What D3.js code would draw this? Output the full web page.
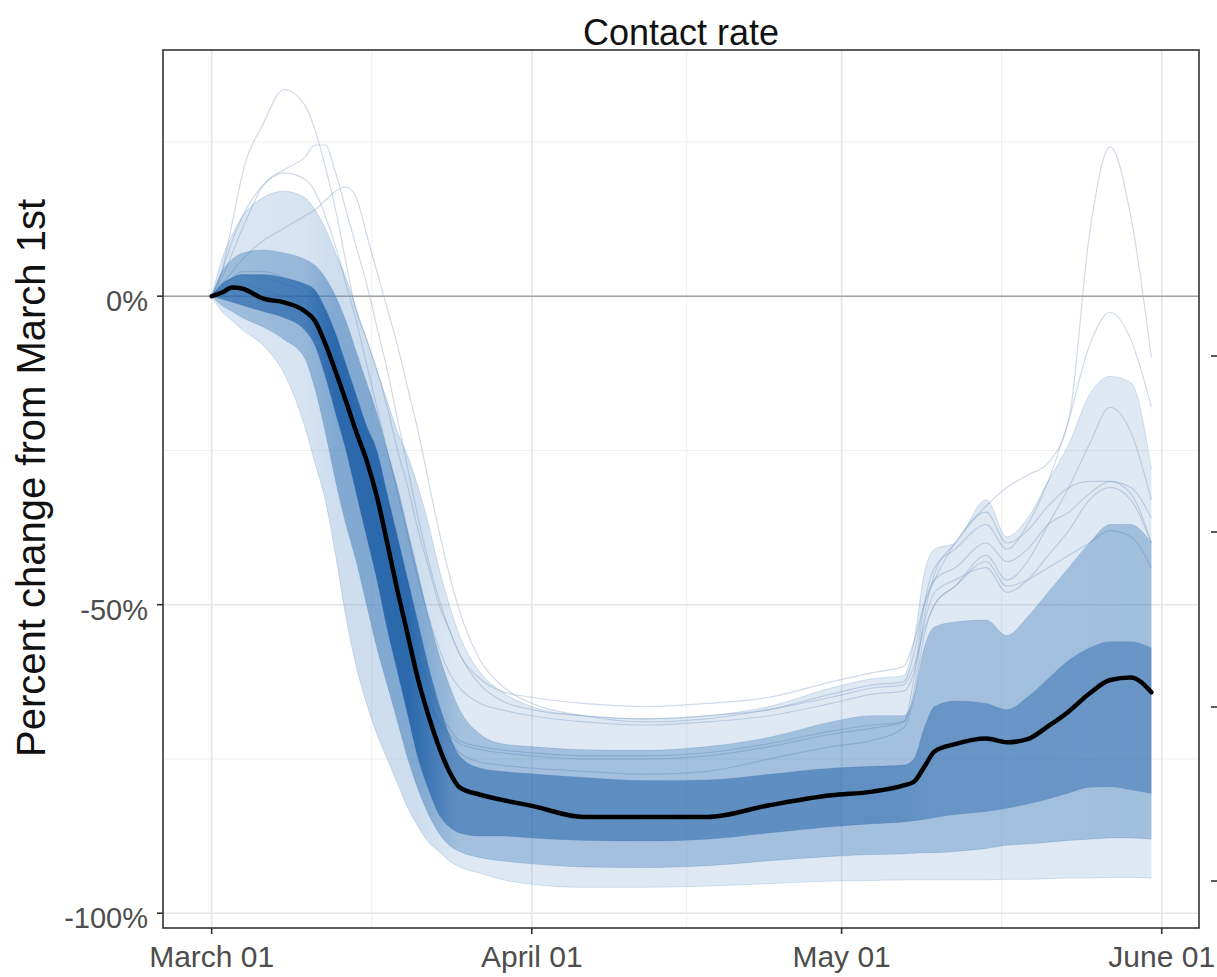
<!DOCTYPE html>
<html>
<head>
<meta charset="utf-8">
<script src="https://cdn.jsdelivr.net/npm/d3@7"></script>
<style>
  html, body { margin: 0; padding: 0; background: #fff; }
  svg { display: block; font-family: "Liberation Sans", Arial, sans-serif; }
</style>
</head>
<body>
<svg id="chart" width="1217" height="977"></svg>
<script>
// Days since March 1st (2020) at which each series is sampled
const bandDays = [0,1,2,3,5,7,9,10,11,12,13,14,15,16,17,18,19,20,21,22,23,24,26,28,31,36,42,48,54,60,64,67,68,69,70,72,75,77,79,81,83,85,87,89,91];

// Median county contact-rate change (%)
const median = [0,0.6,1.4,1.2,-0.4,-1.0,-2.4,-4.0,-7.7,-12.2,-17.0,-22.0,-26.6,-32.5,-40.0,-47.8,-55.0,-62.2,-68.0,-73.0,-77.0,-79.6,-80.8,-81.6,-82.6,-84.4,-84.4,-84.4,-82.5,-80.9,-80.3,-79.3,-78.7,-76.3,-73.8,-72.6,-71.7,-72.3,-71.8,-69.7,-67.3,-64.4,-62.2,-61.8,-64.2];

// Spread of the county curves (%), from the lower to the upper edge
const q02 = [0,-2.5,-4,-5.5,-8,-12.5,-21,-27,-33,-42,-52,-60,-66,-71,-75,-79,-83,-86,-88.5,-90,-91.5,-92.5,-93.5,-94.5,-95.3,-95.8,-95.8,-95.6,-95.2,-94.8,-94.7,-94.6,-94.6,-94.6,-94.6,-94.6,-94.6,-94.5,-94.5,-94.4,-94.3,-94.3,-94.2,-94.2,-94.3];
const q10 = [0,-1.5,-2.5,-3.5,-5,-7,-10,-15,-22,-30,-37,-43,-50,-57,-63,-69,-75,-80,-84,-87,-89,-90,-91,-91.5,-92,-92.5,-92.6,-92.3,-91.5,-90.8,-90.5,-90.4,-90.3,-90.2,-90.2,-90,-89.5,-89,-88.8,-88.5,-88.2,-88,-87.8,-87.8,-88];
const q25 = [0,-0.5,-1,-1.5,-2.5,-3.5,-5.5,-8,-13,-19,-25,-32,-39,-46,-54,-61,-68,-75,-80,-84,-86,-87,-87.5,-87.5,-87.8,-88.2,-88.3,-88,-87,-86,-85.5,-85.2,-85,-84.8,-84.5,-84,-83.5,-83,-82.3,-81.5,-80.5,-79.6,-79.5,-80,-80.6];
const q75 = [0,2,3,3.5,3.5,3,2,1,-2,-6,-11,-16,-21,-25,-32,-39,-46,-53,-60,-66,-71,-74.5,-76.5,-77,-77.4,-78,-78.5,-78.4,-77.5,-76.5,-76.2,-76,-75,-70,-66.5,-65.6,-66,-67,-65,-62,-59,-57,-56,-56,-57];
const q90 = [0,4,6,7,7.5,7,6,5,3,0,-4,-9,-14,-19,-25,-31,-38,-45,-52,-58,-63,-67,-71,-72.5,-73,-73.5,-73.6,-73,-71.5,-69,-68,-68,-65,-57,-53.6,-52.8,-52.5,-55,-52,-48,-44,-40,-37,-37,-40];
const q98 = [0,6,10,13,16,17,16,14,11,7,3,-2,-7,-12,-17,-22,-26,-31,-37,-44,-50,-55,-61,-64,-66.5,-68,-68.5,-68,-66.5,-63.5,-62,-61.5,-56,-45,-41,-40,-33,-39,-36,-30,-24,-16,-13,-14,-28];

// Individual counties that stand apart from the bulk (%)
const earlyPeakA = [0,4,12,20,28,33.5,31,27,21,14,5.5,-2.5,-7,-12,-18,-25,-31,-38,-44,-50,-54,-58,-62,-64,-65,-66,-66.5,-66,-65,-62.5,-61,-60,-56,-50,-46,-40,-35,-40,-38,-34,-31,-30,-30,-32,-40];
const earlyPeakB = [0,3,7,11,18,20.5,22.5,24.5,24.5,20,14,8,2,-5,-12,-20,-28,-36,-43,-49,-54,-58,-63,-65.5,-67,-68,-68.5,-68,-67,-64.5,-63,-62.5,-58,-50,-46,-44,-40,-43,-41,-37,-35,-32,-30,-31,-36];
const earlyPeakC = [0,2,4,6,9,11,13,14,15.5,17,17.7,16,10,4,-2,-8,-15,-22,-30,-38,-45,-51,-59,-63,-66,-68,-69,-68.5,-67,-65,-63.5,-63,-60,-54,-50,-47,-43,-47,-46,-44,-42,-40,-38,-39,-44];
const earlyPeakD = [0,4,9,13,18,20,19,17,13,8,2,-4,-11,-18,-25,-32,-39,-46,-52,-57,-61,-63.5,-66,-67,-68,-69,-69.5,-69,-68,-66,-64.5,-64,-61,-53,-48,-46,-44,-48,-46,-42,-38,-33,-31,-33,-40];
const latePeakA = [0,1,2,2,1,0,-1,-3,-7,-12,-18,-24,-30,-37,-44,-51,-57,-62,-66,-69,-71,-72.5,-73.5,-74,-74.5,-75,-75,-74.5,-73,-71,-70,-69,-64,-52,-45,-40,-34,-31,-29,-27,-20,10,24.2,13,-10];
const latePeakB = [0,1.5,3,4,4,3,1.5,0,-3,-8,-13,-19,-25,-31,-38,-45,-52,-58,-63,-67,-70,-72,-73,-73.5,-74,-74.5,-74.5,-74,-72.5,-70.5,-69.5,-69,-62,-50,-44,-41,-37,-41,-37,-30,-20,-8,-2.6,-7,-18];
const latePeakC = [0,2,3,3.5,3,2,0.5,-1.5,-5,-10,-15,-21,-27,-33,-40,-47,-54,-60,-65,-69,-72,-74,-75.5,-76,-76.5,-77,-77.5,-77,-75,-73,-72,-70,-65,-55,-50,-47,-42,-46,-43,-37,-31,-24,-18,-22,-33];

const outliers = [earlyPeakA, earlyPeakB, earlyPeakC, earlyPeakD, latePeakA, latePeakB, latePeakC];

// Axis breaks and labels
const xTickLabels = ["March 01", "April 01", "May 01", "June 01"];
const xTickDates = ["2020-03-01", "2020-04-01", "2020-05-01", "2020-06-01"];
const xMinorDates = ["2020-03-16T12:00", "2020-04-16T00:00", "2020-05-16T12:00"];
const yTicks = [0, -50, -100];
const yTickLabels = ["0%", "-50%", "-100%"];
const yMinor = [25, -25, -75];

const svg = d3.select("#chart");
const defs = svg.append("defs");
const panel = { left: 163, right: 1199, top: 50, bottom: 928 };

const mar1 = new Date(Date.UTC(2020, 2, 1));
const jun1 = new Date(Date.UTC(2020, 5, 1));
const dayMs = 864e5;
const x = d3.scaleUtc()
  .domain([new Date(mar1.getTime() - 4.714 * dayMs), new Date(jun1.getTime() + 3.61 * dayMs)])
  .range([panel.left, panel.right]);
const y = d3.scaleLinear().domain([-102.4, 39.9]).range([panel.bottom, panel.top]);

const parseDate = s => new Date(s + (s.includes("T") ? "Z" : "T00:00Z"));
const dates = bandDays.map(d => d3.utcDay.offset(mar1, d));

// Grid
const grid = svg.append("g");
grid.selectAll("line.ymin").data(yMinor).join("line")
  .attr("x1", panel.left).attr("x2", panel.right)
  .attr("y1", d => y(d)).attr("y2", d => y(d))
  .attr("stroke", "#efefef").attr("stroke-width", 1);
grid.selectAll("line.xmin").data(xMinorDates.map(parseDate)).join("line")
  .attr("y1", panel.top).attr("y2", panel.bottom)
  .attr("x1", d => x(d)).attr("x2", d => x(d))
  .attr("stroke", "#efefef").attr("stroke-width", 1);
grid.selectAll("line.ymaj").data(yTicks).join("line")
  .attr("x1", panel.left).attr("x2", panel.right)
  .attr("y1", d => y(d)).attr("y2", d => y(d))
  .attr("stroke", "#e6e6e6").attr("stroke-width", 1.6);
grid.selectAll("line.xmaj").data(xTickDates.map(parseDate)).join("line")
  .attr("y1", panel.top).attr("y2", panel.bottom)
  .attr("x1", d => x(d)).attr("x2", d => x(d))
  .attr("stroke", "#e6e6e6").attr("stroke-width", 1.6);

// Reference line at no change
svg.append("line")
  .attr("x1", panel.left).attr("x2", panel.right)
  .attr("y1", y(0)).attr("y2", y(0))
  .attr("stroke", "#a3a3a3").attr("stroke-width", 1.5);

defs.append("clipPath").attr("id", "clip").append("rect")
  .attr("x", panel.left).attr("y", panel.top)
  .attr("width", panel.right - panel.left).attr("height", panel.bottom - panel.top);

const plot = svg.append("g").attr("clip-path", "url(#clip)");

const area = (lo, hi) => d3.area()
  .x((d, i) => x(dates[i]))
  .y0((d, i) => y(lo[i]))
  .y1((d, i) => y(hi[i]))
  .curve(d3.curveMonotoneX)(bandDays);
const line = d3.line()
  .x((d, i) => x(dates[i]))
  .y(d => y(d))
  .curve(d3.curveMonotoneX);

// Outlying county curves
plot.selectAll("path.out").data(outliers).join("path")
  .attr("d", line).attr("fill", "none")
  .attr("stroke", "#97adc9").attr("stroke-opacity", 0.45).attr("stroke-width", 1.2);

// Density bands: curves pile up where they fall steeply, so the shading
// deepens during the March decline
const bands = [
  { id: "bandOuter", lo: q02, hi: q98, color: "#5b90c8",
    stops: [[0,0.22],[9,0.25],[12,0.3],[20,0.3],[24,0.2],[66,0.2],[91,0.2]] },
  { id: "bandMid", lo: q10, hi: q90, color: "#3574b5",
    stops: [[0,0.35],[9,0.4],[12,0.5],[20,0.5],[24,0.35],[66,0.35],[91,0.36]] },
  { id: "bandInner", lo: q25, hi: q75, color: "#1d5ea6",
    stops: [[0,0.6],[9,0.65],[12,0.85],[19,0.85],[23,0.52],[66,0.5],[69.6,0.44],[91,0.42]] }
];
bands.forEach(b => {
  const g = defs.append("linearGradient").attr("id", b.id)
    .attr("gradientUnits", "userSpaceOnUse")
    .attr("x1", panel.left).attr("x2", panel.right).attr("y1", 0).attr("y2", 0);
  b.stops.forEach(([d, op]) => {
    g.append("stop")
      .attr("offset", (x(new Date(mar1.getTime() + d * dayMs)) - panel.left) / (panel.right - panel.left))
      .attr("stop-color", b.color).attr("stop-opacity", op);
  });
});
plot.selectAll("path.band").data(bands).join("path")
  .attr("d", b => area(b.lo, b.hi))
  .attr("fill", b => `url(#${b.id})`);

plot.selectAll("path.edge").data([q02, q10, q25, q75, q90, q98]).join("path")
  .attr("d", line).attr("fill", "none")
  .attr("stroke", "#3a73b0").attr("stroke-opacity", 0.2).attr("stroke-width", 1);

// Median curve
plot.append("path").datum(median)
  .attr("d", line).attr("fill", "none")
  .attr("stroke", "#000").attr("stroke-width", 4.5)
  .attr("stroke-linejoin", "round").attr("stroke-linecap", "round");

// Panel border
svg.append("rect")
  .attr("x", panel.left).attr("y", panel.top)
  .attr("width", panel.right - panel.left).attr("height", panel.bottom - panel.top)
  .attr("fill", "none").attr("stroke", "#333").attr("stroke-width", 1.6);

// X axis
const xAxis = svg.append("g");
xAxis.selectAll("line").data(xTickDates.map(parseDate)).join("line")
  .attr("x1", d => x(d)).attr("x2", d => x(d))
  .attr("y1", panel.bottom).attr("y2", panel.bottom + 6)
  .attr("stroke", "#333").attr("stroke-width", 1.6);
xAxis.selectAll("text").data(xTickDates.map(parseDate)).join("text")
  .attr("x", d => x(d)).attr("y", 967)
  .attr("text-anchor", "middle")
  .attr("font-size", 30).attr("fill", "#4d4d4d")
  .text((d, i) => xTickLabels[i]);

// Y axis
const yAxis = svg.append("g");
yAxis.selectAll("line").data(yTicks).join("line")
  .attr("x1", panel.left - 6).attr("x2", panel.left)
  .attr("y1", d => y(d)).attr("y2", d => y(d))
  .attr("stroke", "#333").attr("stroke-width", 1.6);
yAxis.selectAll("text").data(yTicks).join("text")
  .attr("x", 148).attr("y", d => y(d) + 15)
  .attr("text-anchor", "end")
  .attr("font-size", 29).attr("fill", "#4d4d4d")
  .text((d, i) => yTickLabels[i]);

// Edge ticks of the adjacent panel's axis
const sideTicks = [356, 532, 707, 881];
svg.selectAll("line.side").data(sideTicks).join("line")
  .attr("x1", 1211).attr("x2", 1217)
  .attr("y1", d => d).attr("y2", d => d)
  .attr("stroke", "#333").attr("stroke-width", 1.6);

// Titles
svg.append("text")
  .attr("x", (panel.left + panel.right) / 2).attr("y", 45)
  .attr("text-anchor", "middle").attr("font-size", 36).attr("fill", "#111")
  .text("Contact rate");
svg.append("text")
  .attr("transform", `translate(45,478) rotate(-90)`)
  .attr("text-anchor", "middle").attr("font-size", 40).attr("fill", "#111")
  .text("Percent change from March 1st");
</script>
</body>
</html>
